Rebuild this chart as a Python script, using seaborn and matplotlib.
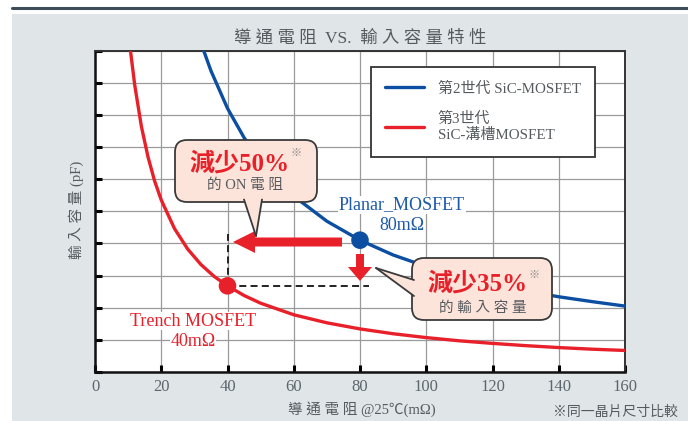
import numpy as np
import pandas as pd
import seaborn as sns
import matplotlib
matplotlib.use("Agg")
import matplotlib.pyplot as plt
from matplotlib.transforms import Affine2D
from matplotlib.patches import FancyBboxPatch, Polygon, FancyArrow, Rectangle
from matplotlib.lines import Line2D

# ---------------- data ----------------
gen3_label = "第3世代\nSiC-溝槽MOSFET"
gen2_label = "第2世代 SiC-MOSFET"

red_x = [10.7, 12, 14, 16, 18, 20, 24, 28, 32, 36, 40, 45, 50, 60, 70, 80,
         90, 100, 110, 120, 130, 140, 150, 160]
red_y = [10.0, 8.92, 7.64, 6.69, 5.94, 5.35, 4.46, 3.82, 3.34, 2.97, 2.68,
         2.38, 2.14, 1.78, 1.53, 1.34, 1.19, 1.07, 0.97, 0.89, 0.82, 0.76,
         0.71, 0.67]
blue_x = [32.8, 35, 40, 45, 50, 55, 60, 70, 80, 90, 100, 110, 120, 130, 140,
          150, 160]
blue_y = [10.0, 9.37, 8.2, 7.29, 6.56, 5.96, 5.47, 4.69, 4.1, 3.64, 3.28,
          2.98, 2.73, 2.52, 2.34, 2.19, 2.05]

point_x = [80, 40]
point_y = [4.1, 2.68]
point_series = [gen2_label, gen3_label]

x_ticks = [0, 20, 40, 60, 80, 100, 120, 140, 160]
y_ticks = [0, 1, 2, 3, 4, 5, 6, 7, 8, 9, 10]

dash_h_end_x = 82.8
dash_v_top_y = 4.3

RED = "#e8202a"
BLUE = "#0b4ea2"
TXT = "#555a5e"

# ---------------- figure ----------------
W, H = 688, 421
sns.set_theme(style="white")
plt.rcParams['font.family'] = ['Liberation Serif', 'Noto Sans CJK TC', 'DejaVu Sans']

fig = plt.figure(figsize=(W / 100, H / 100), dpi=100)
fig.patch.set_facecolor("white")
PX = Affine2D().scale(1 / W, -1 / H).translate(0, 1) + fig.transFigure

# background panel and top rule
fig.add_artist(Rectangle((12, 14), W - 12, H - 14, transform=PX,
                         facecolor="#e0e5e8", edgecolor="none", zorder=-10))
fig.add_artist(Line2D([12, W], [7.5, 7.5], transform=PX, color="#3e4c57",
                      lw=2.2, zorder=-9))

L, R, T, B = 95, 625, 50.5, 372
ax = fig.add_axes([L / W, (H - B) / H, (R - L) / W, (B - T) / H])
ax.set_facecolor("white")

df = pd.DataFrame({
    "x": blue_x + red_x,
    "y": blue_y + red_y,
    "series": [gen2_label] * len(blue_x) + [gen3_label] * len(red_x),
})
pal = {gen2_label: BLUE, gen3_label: RED}
sns.lineplot(data=df, x="x", y="y", hue="series", palette=pal, sort=False,
             estimator=None, lw=2.4, ax=ax, zorder=3)

pts = pd.DataFrame({"x": point_x, "y": point_y, "series": point_series})
sns.scatterplot(data=pts, x="x", y="y", hue="series", palette=pal, s=160,
                edgecolor="none", legend=False, ax=ax, zorder=5)

# dashed guide lines
ax.plot([point_x[1], dash_h_end_x], [point_y[1], point_y[1]], ls=(0, (3.6, 2.2)),
        color="#222222", lw=1.4, zorder=2)
ax.plot([point_x[1], point_x[1]], [point_y[1], dash_v_top_y], ls=(0, (3.6, 2.2)),
        color="#222222", lw=1.4, zorder=2)

ax.set_xlim(0, 160)
ax.set_ylim(0, 10)
ax.set_xticks(x_ticks)
ax.set_xticklabels([str(t) for t in x_ticks], color="#5d666d", fontsize=12)
ax.set_yticks(y_ticks)
ax.set_yticklabels([""] * len(y_ticks))
ax.grid(True, color="#9a9a9a", lw=0.9)
ax.set_axisbelow(True)
ax.tick_params(axis="both", direction="in", length=5, width=2.2, color="black",
               bottom=True, left=True, pad=5)
for s in ["left", "bottom"]:
    ax.spines[s].set_color("#111111")
    ax.spines[s].set_linewidth(1.8)
for s in ["top", "right"]:
    ax.spines[s].set_color("#333333")
    ax.spines[s].set_linewidth(1.4)
ax.set_xlabel("")
ax.set_ylabel("")

# legend
handles, labels = ax.get_legend_handles_labels()
leg = ax.legend(handles, labels, loc="upper right", bbox_to_anchor=(0.943, 0.948),
                frameon=True, fancybox=False, framealpha=1, edgecolor="#333333",
                fontsize=10.8, handlelength=2.6, handletextpad=0.9,
                labelspacing=1.1, borderpad=0.95, borderaxespad=0)
leg.get_frame().set_linewidth(1.3)
for t in leg.get_texts():
    t.set_color(TXT)
leg.set_zorder(6)

# ---------------- titles / labels ----------------
def ftext(x, y, s, **kw):
    fig.text(x / W, 1 - y / H, s, **kw)

ftext(360, 38, "導 通 電 阻  VS.  輸 入 容 量 特 性", ha="center", va="center",
      fontsize=12.5, color=TXT)
ftext(362, 409, "導 通 電 阻 @25℃(mΩ)", ha="center", va="center",
      fontsize=10.5, color=TXT)
ftext(76, 210, "輸 入 容 量 (pF)", ha="center", va="center", rotation=90,
      fontsize=10.5, color=TXT)
ftext(678, 412, "※同一晶片尺寸比較", ha="right", va="center",
      fontsize=10, color=TXT)

# series annotations
ftext(402, 205, "Planar_MOSFET", ha="center", va="center", fontsize=13,
      color="#1d5aa8", zorder=7,
      bbox=dict(facecolor="white", edgecolor="none", pad=0.5))
ftext(402, 226, "80mΩ", ha="center", va="center", fontsize=13,
      color="#1d5aa8", zorder=7,
      bbox=dict(facecolor="white", edgecolor="none", pad=0.5))
ftext(193, 321, "Trench MOSFET", ha="center", va="center", fontsize=13,
      color=RED, zorder=7,
      bbox=dict(facecolor="white", edgecolor="none", pad=0.5))
ftext(193, 342, "40mΩ", ha="center", va="center", fontsize=13,
      color=RED, zorder=7,
      bbox=dict(facecolor="white", edgecolor="none", pad=0.5))

# arrows
fig.add_artist(FancyArrow(342, 242, -87, 0, width=9, head_width=22,
                          head_length=22, length_includes_head=False,
                          transform=PX, color=RED, lw=0, zorder=8))
fig.add_artist(FancyArrow(360, 254, 0, 13, width=8, head_width=24,
                          head_length=14, transform=PX, color=RED, lw=0,
                          zorder=8))

# callouts
FILL = "#fde4da"
EDGE = "#3a3a3a"

def callout(x0, y0, x1, y1, tail):
    fig.add_artist(FancyBboxPatch((x0, y0), x1 - x0, y1 - y0,
                                  boxstyle="round,pad=0,rounding_size=12",
                                  transform=PX, facecolor=FILL, edgecolor=EDGE,
                                  lw=1.3, zorder=9))
    fig.add_artist(Polygon(tail, closed=True, transform=PX, facecolor=FILL,
                           edgecolor="none", zorder=10))
    fig.add_artist(Line2D([tail[0][0], tail[1][0]], [tail[0][1], tail[1][1]],
                          transform=PX, color=EDGE, lw=1.3, zorder=11))
    fig.add_artist(Line2D([tail[1][0], tail[2][0]], [tail[1][1], tail[2][1]],
                          transform=PX, color=EDGE, lw=1.3, zorder=11))

callout(175, 140, 317, 202, [(244, 199.5), (256, 236), (262, 199.5)])
callout(412, 258, 552, 320, [(414, 280), (376, 268), (414, 296)])

ftext(239, 164, "減少50%", ha="center", va="center", fontsize=18,
      fontweight="bold", color=RED, zorder=12)
ftext(296, 154, "※", ha="center", va="center", fontsize=8, color="#888888",
      zorder=12)
ftext(245, 185, "的 ON 電 阻", ha="center", va="center", fontsize=10.5,
      color=TXT, zorder=12)

ftext(477, 284, "減少35%", ha="center", va="center", fontsize=18,
      fontweight="bold", color=RED, zorder=12)
ftext(534, 276, "※", ha="center", va="center", fontsize=8, color="#888888",
      zorder=12)
ftext(483, 308, "的 輸 入 容 量", ha="center", va="center", fontsize=10.5,
      color=TXT, zorder=12)

fig.savefig("out.png", dpi=100)
